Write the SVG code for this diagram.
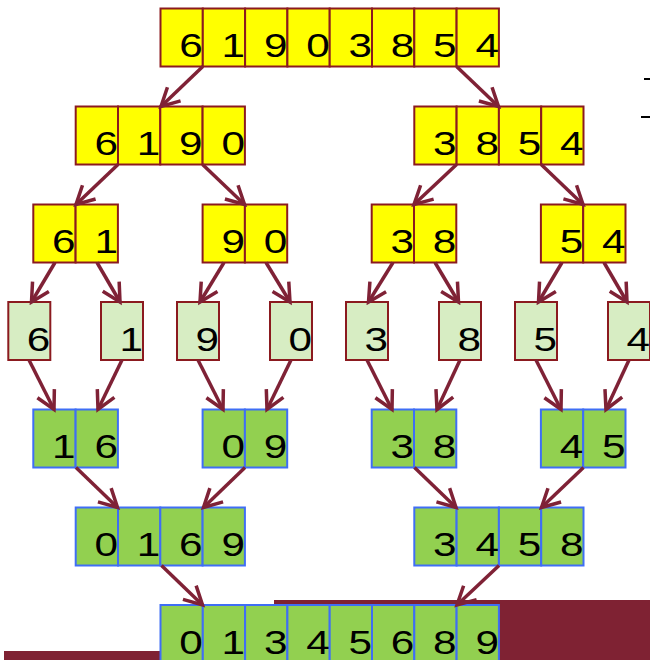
<svg xmlns="http://www.w3.org/2000/svg" width="650" height="660" viewBox="0 0 650 660">
<style>
.y rect{fill:#FFFF00;stroke:#8B1A1F;stroke-width:2}
.l rect{fill:#D7EDC3;stroke:#8B1A1F;stroke-width:2}
.g rect{fill:#92D050;stroke:#3F6EF5;stroke-width:2}
text{font-family:"Liberation Sans",Arial,sans-serif;font-size:32.5px;fill:#000;text-anchor:end}
.c line{stroke:#7F2236;stroke-width:3.5;marker-end:url(#ah)}
</style>
<defs>
<marker id="ah" markerUnits="userSpaceOnUse" viewBox="-24 -14 28 28" refX="0" refY="0" markerWidth="28" markerHeight="28" orient="auto">
<path d="M-18,-9.5 L0,0 L-18,9.5" fill="none" stroke="#7F2236" stroke-width="3.5" stroke-linejoin="miter"/>
</marker>
</defs>
<rect x="274" y="600" width="376" height="60" fill="#7F2233"/>
<rect x="4" y="651" width="156" height="9" fill="#7F2233"/>
<line x1="644" y1="79" x2="650" y2="79" stroke="#000" stroke-width="2"/>
<line x1="641" y1="117" x2="650" y2="117" stroke="#000" stroke-width="2"/>

<g id="n61903854" class="y">
<rect x="160.5" y="8.5" width="42.3" height="58"/><rect x="202.8" y="8.5" width="42.3" height="58"/><rect x="245.1" y="8.5" width="42.3" height="58"/><rect x="287.4" y="8.5" width="42.3" height="58"/><rect x="329.7" y="8.5" width="42.3" height="58"/><rect x="372" y="8.5" width="42.3" height="58"/><rect x="414.3" y="8.5" width="42.3" height="58"/><rect x="456.6" y="8.5" width="42.3" height="58"/>
<text x="202.8" y="57" textLength="23.5" lengthAdjust="spacingAndGlyphs">6</text><text x="245.1" y="57" textLength="23.5" lengthAdjust="spacingAndGlyphs">1</text><text x="287.4" y="57" textLength="23.5" lengthAdjust="spacingAndGlyphs">9</text><text x="329.7" y="57" textLength="23.5" lengthAdjust="spacingAndGlyphs">0</text><text x="372" y="57" textLength="23.5" lengthAdjust="spacingAndGlyphs">3</text><text x="414.3" y="57" textLength="23.5" lengthAdjust="spacingAndGlyphs">8</text><text x="456.6" y="57" textLength="23.5" lengthAdjust="spacingAndGlyphs">5</text><text x="498.9" y="57" textLength="23.5" lengthAdjust="spacingAndGlyphs">4</text>
</g>

<g id="n6190" class="y">
<rect x="75.7" y="106.5" width="42.3" height="58"/><rect x="118" y="106.5" width="42.3" height="58"/><rect x="160.3" y="106.5" width="42.3" height="58"/><rect x="202.6" y="106.5" width="42.3" height="58"/>
<text x="118" y="155" textLength="23.5" lengthAdjust="spacingAndGlyphs">6</text><text x="160.3" y="155" textLength="23.5" lengthAdjust="spacingAndGlyphs">1</text><text x="202.6" y="155" textLength="23.5" lengthAdjust="spacingAndGlyphs">9</text><text x="244.9" y="155" textLength="23.5" lengthAdjust="spacingAndGlyphs">0</text>
</g>
<g id="n3854" class="y">
<rect x="414.3" y="106.5" width="42.3" height="58"/><rect x="456.6" y="106.5" width="42.3" height="58"/><rect x="498.9" y="106.5" width="42.3" height="58"/><rect x="541.2" y="106.5" width="42.3" height="58"/>
<text x="456.6" y="155" textLength="23.5" lengthAdjust="spacingAndGlyphs">3</text><text x="498.9" y="155" textLength="23.5" lengthAdjust="spacingAndGlyphs">8</text><text x="541.2" y="155" textLength="23.5" lengthAdjust="spacingAndGlyphs">5</text><text x="583.5" y="155" textLength="23.5" lengthAdjust="spacingAndGlyphs">4</text>
</g>

<g id="n61" class="y">
<rect x="33.3" y="204.5" width="42.3" height="58"/><rect x="75.6" y="204.5" width="42.3" height="58"/>
<text x="75.6" y="253" textLength="23.5" lengthAdjust="spacingAndGlyphs">6</text><text x="117.9" y="253" textLength="23.5" lengthAdjust="spacingAndGlyphs">1</text>
</g>
<g id="n90" class="y">
<rect x="202.6" y="204.5" width="42.3" height="58"/><rect x="244.9" y="204.5" width="42.3" height="58"/>
<text x="244.9" y="253" textLength="23.5" lengthAdjust="spacingAndGlyphs">9</text><text x="287.2" y="253" textLength="23.5" lengthAdjust="spacingAndGlyphs">0</text>
</g>
<g id="n38a" class="y">
<rect x="371.7" y="204.5" width="42.3" height="58"/><rect x="414" y="204.5" width="42.3" height="58"/>
<text x="414" y="253" textLength="23.5" lengthAdjust="spacingAndGlyphs">3</text><text x="456.3" y="253" textLength="23.5" lengthAdjust="spacingAndGlyphs">8</text>
</g>
<g id="n54" class="y">
<rect x="540.9" y="204.5" width="42.3" height="58"/><rect x="583.2" y="204.5" width="42.3" height="58"/>
<text x="583.2" y="253" textLength="23.5" lengthAdjust="spacingAndGlyphs">5</text><text x="625.5" y="253" textLength="23.5" lengthAdjust="spacingAndGlyphs">4</text>
</g>

<g id="s6" class="l"><rect x="8.3" y="302" width="42" height="58"/><text x="50.3" y="350.5" textLength="23.5" lengthAdjust="spacingAndGlyphs">6</text></g>
<g id="s1" class="l"><rect x="101" y="302" width="42" height="58"/><text x="143" y="350.5" textLength="23.5" lengthAdjust="spacingAndGlyphs">1</text></g>
<g id="s9" class="l"><rect x="177" y="302" width="42" height="58"/><text x="219" y="350.5" textLength="23.5" lengthAdjust="spacingAndGlyphs">9</text></g>
<g id="s0" class="l"><rect x="270" y="302" width="42" height="58"/><text x="312" y="350.5" textLength="23.5" lengthAdjust="spacingAndGlyphs">0</text></g>
<g id="s3" class="l"><rect x="346" y="302" width="42" height="58"/><text x="388" y="350.5" textLength="23.5" lengthAdjust="spacingAndGlyphs">3</text></g>
<g id="s8" class="l"><rect x="439" y="302" width="42" height="58"/><text x="481" y="350.5" textLength="23.5" lengthAdjust="spacingAndGlyphs">8</text></g>
<g id="s5" class="l"><rect x="515" y="302" width="42" height="58"/><text x="557" y="350.5" textLength="23.5" lengthAdjust="spacingAndGlyphs">5</text></g>
<g id="s4" class="l"><rect x="608" y="302" width="42" height="58"/><text x="650" y="350.5" textLength="23.5" lengthAdjust="spacingAndGlyphs">4</text></g>

<g id="m16" class="g">
<rect x="33.3" y="409.5" width="42.3" height="58"/><rect x="75.6" y="409.5" width="42.3" height="58"/>
<text x="75.6" y="458" textLength="23.5" lengthAdjust="spacingAndGlyphs">1</text><text x="117.9" y="458" textLength="23.5" lengthAdjust="spacingAndGlyphs">6</text>
</g>
<g id="m09" class="g">
<rect x="202.6" y="409.5" width="42.3" height="58"/><rect x="244.9" y="409.5" width="42.3" height="58"/>
<text x="244.9" y="458" textLength="23.5" lengthAdjust="spacingAndGlyphs">0</text><text x="287.2" y="458" textLength="23.5" lengthAdjust="spacingAndGlyphs">9</text>
</g>
<g id="m38" class="g">
<rect x="371.7" y="409.5" width="42.3" height="58"/><rect x="414" y="409.5" width="42.3" height="58"/>
<text x="414" y="458" textLength="23.5" lengthAdjust="spacingAndGlyphs">3</text><text x="456.3" y="458" textLength="23.5" lengthAdjust="spacingAndGlyphs">8</text>
</g>
<g id="m45" class="g">
<rect x="540.9" y="409.5" width="42.3" height="58"/><rect x="583.2" y="409.5" width="42.3" height="58"/>
<text x="583.2" y="458" textLength="23.5" lengthAdjust="spacingAndGlyphs">4</text><text x="625.5" y="458" textLength="23.5" lengthAdjust="spacingAndGlyphs">5</text>
</g>

<g id="m0169" class="g">
<rect x="75.7" y="507.5" width="42.3" height="58"/><rect x="118" y="507.5" width="42.3" height="58"/><rect x="160.3" y="507.5" width="42.3" height="58"/><rect x="202.6" y="507.5" width="42.3" height="58"/>
<text x="118" y="556" textLength="23.5" lengthAdjust="spacingAndGlyphs">0</text><text x="160.3" y="556" textLength="23.5" lengthAdjust="spacingAndGlyphs">1</text><text x="202.6" y="556" textLength="23.5" lengthAdjust="spacingAndGlyphs">6</text><text x="244.9" y="556" textLength="23.5" lengthAdjust="spacingAndGlyphs">9</text>
</g>
<g id="m3458" class="g">
<rect x="414.3" y="507.5" width="42.3" height="58"/><rect x="456.6" y="507.5" width="42.3" height="58"/><rect x="498.9" y="507.5" width="42.3" height="58"/><rect x="541.2" y="507.5" width="42.3" height="58"/>
<text x="456.6" y="556" textLength="23.5" lengthAdjust="spacingAndGlyphs">3</text><text x="498.9" y="556" textLength="23.5" lengthAdjust="spacingAndGlyphs">4</text><text x="541.2" y="556" textLength="23.5" lengthAdjust="spacingAndGlyphs">5</text><text x="583.5" y="556" textLength="23.5" lengthAdjust="spacingAndGlyphs">8</text>
</g>

<g id="m01345689" class="g">
<rect x="160.5" y="605" width="42.3" height="58"/><rect x="202.8" y="605" width="42.3" height="58"/><rect x="245.1" y="605" width="42.3" height="58"/><rect x="287.4" y="605" width="42.3" height="58"/><rect x="329.7" y="605" width="42.3" height="58"/><rect x="372" y="605" width="42.3" height="58"/><rect x="414.3" y="605" width="42.3" height="58"/><rect x="456.6" y="605" width="42.3" height="58"/>
<text x="202.8" y="653.5" textLength="23.5" lengthAdjust="spacingAndGlyphs">0</text><text x="245.1" y="653.5" textLength="23.5" lengthAdjust="spacingAndGlyphs">1</text><text x="287.4" y="653.5" textLength="23.5" lengthAdjust="spacingAndGlyphs">3</text><text x="329.7" y="653.5" textLength="23.5" lengthAdjust="spacingAndGlyphs">4</text><text x="372" y="653.5" textLength="23.5" lengthAdjust="spacingAndGlyphs">5</text><text x="414.3" y="653.5" textLength="23.5" lengthAdjust="spacingAndGlyphs">6</text><text x="456.6" y="653.5" textLength="23.5" lengthAdjust="spacingAndGlyphs">8</text><text x="498.9" y="653.5" textLength="23.5" lengthAdjust="spacingAndGlyphs">9</text>
</g>

<g id="connectors" class="c">
<line x1="202.8" y1="66.5" x2="161" y2="106.5"/>
<line x1="456.6" y1="66.5" x2="498.5" y2="106.5"/>
<line x1="118" y1="164.5" x2="76" y2="204.5"/>
<line x1="202.6" y1="164.5" x2="244.5" y2="204.5"/>
<line x1="456.6" y1="164.5" x2="414" y2="204.5"/>
<line x1="541.2" y1="164.5" x2="583" y2="204.5"/>
<line x1="55" y1="262.5" x2="31.5" y2="302"/>
<line x1="97" y1="262.5" x2="120" y2="302"/>
<line x1="224" y1="262.5" x2="200" y2="302"/>
<line x1="266" y1="262.5" x2="290" y2="302"/>
<line x1="393" y1="262.5" x2="368.5" y2="302"/>
<line x1="435" y1="262.5" x2="458.5" y2="302"/>
<line x1="562" y1="262.5" x2="538.5" y2="302"/>
<line x1="604" y1="262.5" x2="627" y2="302"/>
<line x1="29" y1="360" x2="54" y2="409.5"/>
<line x1="122" y1="360" x2="98" y2="409.5"/>
<line x1="198" y1="360" x2="223" y2="409.5"/>
<line x1="291" y1="360" x2="267" y2="409.5"/>
<line x1="367" y1="360" x2="392" y2="409.5"/>
<line x1="460" y1="360" x2="437" y2="409.5"/>
<line x1="536" y1="360" x2="561" y2="409.5"/>
<line x1="629" y1="360" x2="606" y2="409.5"/>
<line x1="76" y1="467.5" x2="117.5" y2="507.5"/>
<line x1="245" y1="467.5" x2="203.5" y2="507.5"/>
<line x1="414.5" y1="467.5" x2="456" y2="507.5"/>
<line x1="583.5" y1="467.5" x2="541.5" y2="507.5"/>
<line x1="161.5" y1="565.5" x2="202.5" y2="605"/>
<line x1="499" y1="565.5" x2="457" y2="605"/>
</g>
</svg>
